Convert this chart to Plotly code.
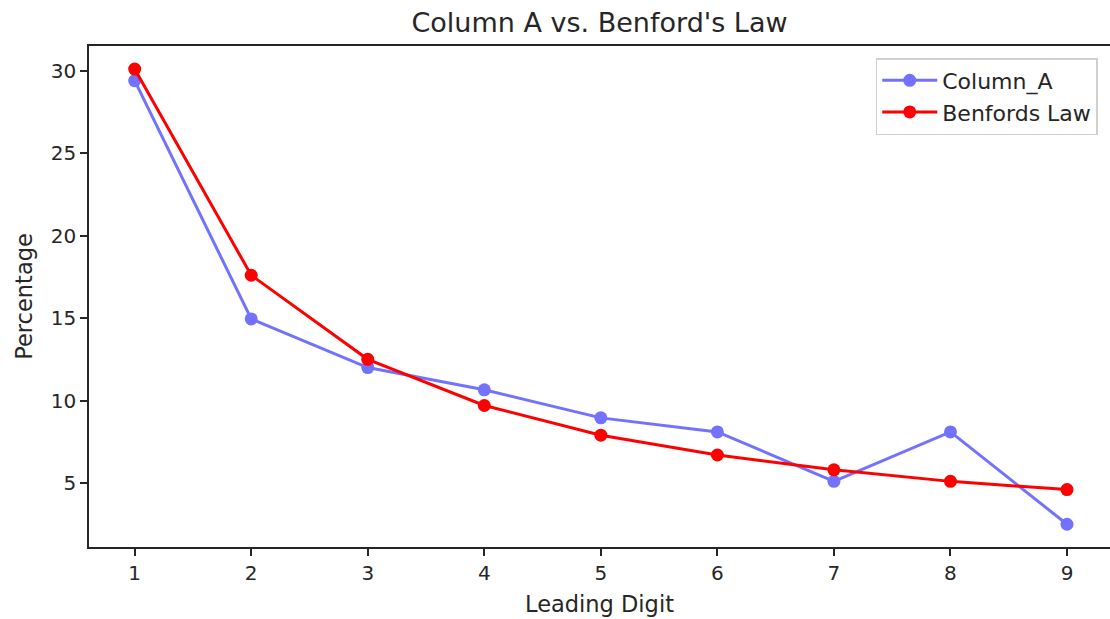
import plotly.graph_objects as go

digits = [1, 2, 3, 4, 5, 6, 7, 8, 9]
column_a = [29.4, 14.95, 12.0, 10.65, 8.95, 8.1, 5.1, 8.1, 2.5]
benford = [30.1, 17.6, 12.5, 9.7, 7.9, 6.7, 5.8, 5.1, 4.6]
x_ticks = [1, 2, 3, 4, 5, 6, 7, 8, 9]
y_ticks = [5, 10, 15, 20, 25, 30]

FONT = "DejaVu Sans"
fig = go.Figure()
fig.add_trace(go.Scatter(
    x=digits, y=column_a, mode="lines+markers", name="Column_A",
    line=dict(color="#0000ff", width=3), marker=dict(color="#0000ff", size=13),
    opacity=0.55))
fig.add_trace(go.Scatter(
    x=digits, y=benford, mode="lines+markers", name="Benfords Law",
    line=dict(color="#ff0000", width=3), marker=dict(color="#ff0000", size=13)))

fig.update_layout(
    width=1110, height=619,
    margin=dict(l=89, r=0, t=46, b=72),
    paper_bgcolor="white", plot_bgcolor="white",
    font=dict(family=FONT, size=20, color="#262626"),
    title=dict(text="Column A vs. Benford's Law", x=0.5, xref="paper",
               y=1 - 23 / 619, yref="container", yanchor="middle",
               xanchor="center", font=dict(size=27, color="#262626")),
    showlegend=True,
    legend=dict(x=0.988, y=0.976, xanchor="right", yanchor="top",
                bordercolor="#d0d0d0", borderwidth=1.5, bgcolor="white",
                font=dict(size=22), itemwidth=55, tracegroupgap=2),
    xaxis=dict(range=[0.608, 9.369], tickvals=x_ticks, showgrid=False, zeroline=False,
               showline=True, linecolor="#262626", linewidth=1.5, mirror=True,
               ticks="outside", ticklen=7, tickwidth=1.5, tickcolor="#262626",
               title=dict(text="Leading Digit", standoff=12, font=dict(size=22.5))),
    yaxis=dict(range=[1.12, 31.5], tickvals=y_ticks, showgrid=False, zeroline=False,
               showline=True, linecolor="#262626", linewidth=1.5,
               ticks="outside", ticklen=7, tickwidth=1.5, tickcolor="#262626",
               title=dict(text="Percentage", standoff=12, font=dict(size=22.5))),
)
fig.write_html("out.html")
